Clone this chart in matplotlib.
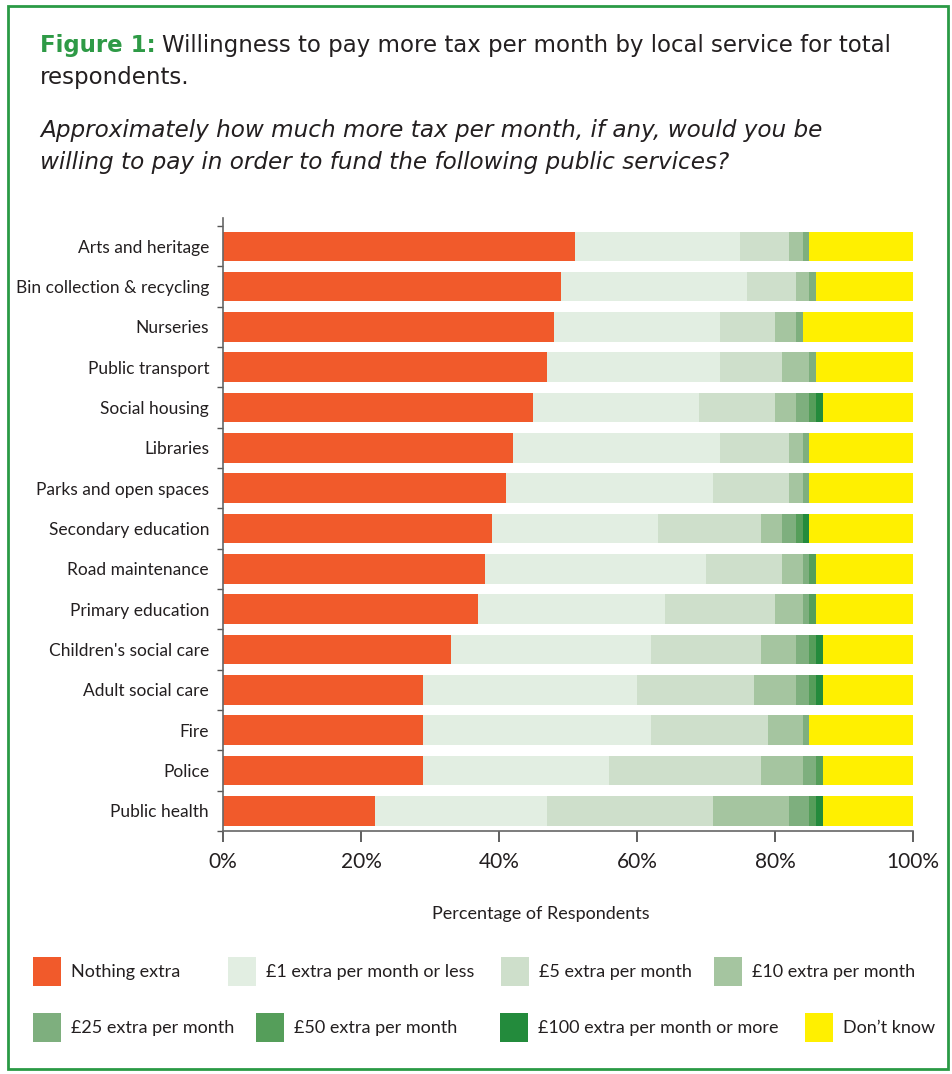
import matplotlib
matplotlib.use("Agg")
import matplotlib.pyplot as plt
from matplotlib.patches import Rectangle
import numpy as np

plt.rcParams['font.family'] = ['Lato', 'DejaVu Sans']

services = ["Arts and heritage", "Bin collection & recycling", "Nurseries",
            "Public transport", "Social housing", "Libraries",
            "Parks and open spaces", "Secondary education", "Road maintenance",
            "Primary education", "Children's social care", "Adult social care",
            "Fire", "Police", "Public health"]

nothing  = [51, 49, 48, 47, 45, 42, 41, 39, 38, 37, 33, 29, 29, 29, 22]
pound1   = [24, 27, 24, 25, 24, 30, 30, 24, 32, 27, 29, 31, 33, 27, 25]
pound5   = [7, 7, 8, 9, 11, 10, 11, 15, 11, 16, 16, 17, 17, 22, 24]
pound10  = [2, 2, 3, 4, 3, 2, 2, 3, 3, 4, 5, 6, 5, 6, 11]
pound25  = [1, 1, 1, 1, 2, 1, 1, 2, 1, 1, 2, 2, 1, 2, 3]
pound50  = [0, 0, 0, 0, 1, 0, 0, 1, 1, 1, 1, 1, 0, 1, 1]
pound100 = [0, 0, 0, 0, 1, 0, 0, 1, 0, 0, 1, 1, 0, 0, 1]
dont_know = [15, 14, 16, 14, 13, 15, 15, 15, 14, 14, 13, 13, 15, 13, 13]

series_labels = ["Nothing extra", "£1 extra per month or less", "£5 extra per month",
                 "£10 extra per month", "£25 extra per month", "£50 extra per month",
                 "£100 extra per month or more", "Don\u2019t know"]
colors = ["#F15A2B", "#E2EEE2", "#CEDFCB", "#A5C5A0", "#7EAF7E", "#559E5A",
          "#238B3C", "#FFF000"]
pct_ticks = [0, 20, 40, 60, 80, 100]

series = [nothing, pound1, pound5, pound10, pound25, pound50, pound100, dont_know]

W, H = 953, 1074
fig = plt.figure(figsize=(W / 100, H / 100), dpi=100)

# green frame
fig.patches.append(Rectangle((8 / W, 5 / H), 940 / W, 1063 / H,
                             transform=fig.transFigure, fill=False,
                             edgecolor="#2A9A45", linewidth=2))

# titles
green = "#2E9A46"
dark = "#231F20"
title_font = ["DejaVu Sans"]
t1 = fig.text(40 / W, 1 - 52 / H, "Figure 1:", color=green, fontsize=16.5,
              fontweight="bold", va="baseline", family=title_font)
fig.canvas.draw()
bb = t1.get_window_extent()
fig.text((bb.x1 + 6) / W, 1 - 52 / H,
         "Willingness to pay more tax per month by local service for total",
         color=dark, fontsize=16.5, va="baseline", family=title_font)
fig.text(40 / W, 1 - 84 / H, "respondents.", color=dark,
         fontsize=16.5, va="baseline", family=title_font)
fig.text(40 / W, 1 - 137 / H,
         "Approximately how much more tax per month, if any, would you be",
         color=dark, fontsize=16.7, style="italic", va="baseline", family=title_font)
fig.text(40 / W, 1 - 169 / H,
         "willing to pay in order to fund the following public services?",
         color=dark, fontsize=16.7, style="italic", va="baseline", family=title_font)

ax = fig.add_axes([223 / W, 1 - 831 / H, 690 / W, 613 / H])
y = np.arange(len(services))
left = np.zeros(len(services))
for vals, col, lab in zip(series, colors, series_labels):
    vals = np.array(vals, dtype=float)
    ax.barh(y, vals, left=left, height=0.73, color=col, label=lab, linewidth=0)
    left += vals

ax.set_xlim(0, 100)
ax.set_ylim(14.47, -0.7)
ax.set_yticks(y)
ax.set_yticklabels(services, fontsize=12.5, color=dark)
ax.set_yticks(np.arange(-0.5, 14.6, 1), minor=True)
ax.tick_params(axis="y", which="major", length=0, pad=10)
ax.tick_params(axis="y", which="minor", length=4, width=1, color="#555555")
ax.set_xticks(pct_ticks)
ax.set_xticklabels([f"{p}%" for p in pct_ticks], fontsize=15, color=dark)
ax.tick_params(axis="x", length=8, width=1.2, color="#444444", pad=7)
for s in ["top", "right"]:
    ax.spines[s].set_visible(False)
for s in ["left", "bottom"]:
    ax.spines[s].set_color("#666666")
    ax.spines[s].set_linewidth(1.2)

fig.text(541 / W, 1 - 919 / H, "Percentage of Respondents", ha="center",
         fontsize=13, color=dark, va="baseline")

# legend laid out like the original (two rows, four items each)
leg_x = [33, 228, 501, 714, 33, 256, 500, 805]
leg_y = [972, 972, 972, 972, 1028, 1028, 1028, 1028]
for lx, ly, col, lab in zip(leg_x, leg_y, colors, series_labels):
    fig.patches.append(Rectangle((lx / W, 1 - (ly + 14) / H), 28 / W, 29 / H,
                                 transform=fig.transFigure, facecolor=col,
                                 edgecolor="none"))
    fig.text((lx + 38) / W, 1 - ly / H, lab, fontsize=13, color=dark,
             va="center")

fig.savefig("out.png", dpi=100)
